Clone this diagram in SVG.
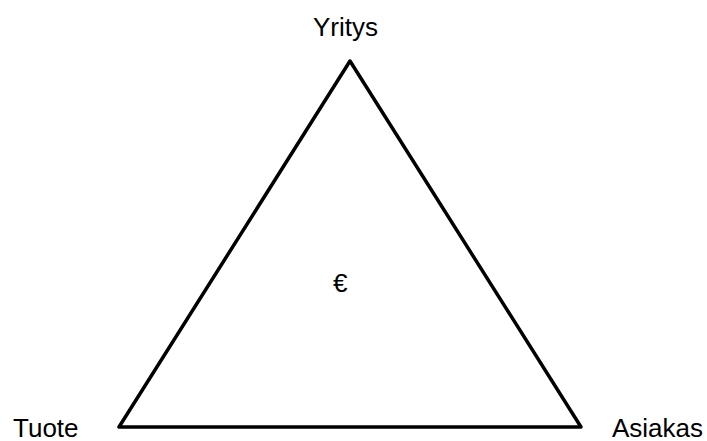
<svg xmlns="http://www.w3.org/2000/svg" width="707" height="441" viewBox="0 0 707 441">
  <style>
    .lbl { font-family: "Liberation Sans", Arial, sans-serif; font-size: 26px; fill: #000; }
    .edge { fill: none; stroke: #000; stroke-width: 3.5; stroke-linejoin: round; }
  </style>
  <rect width="707" height="441" fill="#fff"/>
  <g id="connectors">
    <polygon class="edge" points="350,61 119,427 581,427"/>
  </g>
  <g id="node-yritys">
    <text class="lbl" x="313" y="36">Yritys</text>
  </g>
  <g id="node-tuote">
    <text class="lbl" x="13" y="437">Tuote</text>
  </g>
  <g id="node-asiakas">
    <text class="lbl" x="612" y="437">Asiakas</text>
  </g>
  <g id="node-euro">
    <text class="lbl" x="333" y="292">€</text>
  </g>
</svg>
